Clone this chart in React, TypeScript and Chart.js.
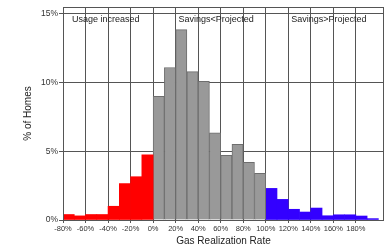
import React, { useEffect, useRef } from "react";
import { Chart, registerables } from "chart.js";

Chart.register(...registerables);

const redBins = [-80, -70, -60, -50, -40, -30, -20, -10];
const redValues = [0.4, 0.3, 0.4, 0.4, 1.0, 2.65, 3.15, 4.75];
const grayBins = [0, 10, 20, 30, 40, 50, 60, 70, 80, 90];
const grayValues = [9.0, 11.1, 13.85, 10.8, 10.1, 6.35, 4.7, 5.5, 4.2, 3.4];
const blueBins = [100, 110, 120, 130, 140, 150, 160, 170, 180, 190];
const blueValues = [2.3, 1.5, 0.78, 0.58, 0.87, 0.31, 0.38, 0.38, 0.29, 0.1];
const binWidth = 10;

const xTicks = [-80, -60, -40, -20, 0, 20, 40, 60, 80, 100, 120, 140, 160, 180];
const yTicks = [0, 5, 10, 15];

const annotationTexts = ["Usage increased", "Savings<Projected", "Savings>Projected"];
const annotationX = [-42, 56, 156];
const annotationY = 14.6;

const FONT = '"Liberation Sans", Arial, sans-serif';

function toPoints(bins: number[], vals: number[]) {
  return bins.map((b, i) => ({ x: b + binWidth / 2, y: vals[i] }));
}

export default function App() {
  const ref = useRef<HTMLCanvasElement | null>(null);
  useEffect(() => {
    if (!ref.current) return;
    const framePlugin = {
      id: "frame",
      afterDatasetsDraw(chart: any) {
        const { ctx, chartArea } = chart;
        ctx.save();
        ctx.strokeStyle = "#555";
        ctx.lineWidth = 1;
        ctx.strokeRect(
          Math.round(chartArea.left) + 0.5,
          Math.round(chartArea.top) + 0.5,
          Math.round(chartArea.right - chartArea.left) - 1,
          Math.round(chartArea.bottom - chartArea.top)
        );
        const xs = chart.scales.x;
        const ys = chart.scales.y;
        ctx.font = "9px " + FONT;
        ctx.fillStyle = "#222";
        ctx.textAlign = "center";
        ctx.textBaseline = "middle";
        annotationTexts.forEach((t, i) => {
          ctx.fillText(t, xs.getPixelForValue(annotationX[i]), ys.getPixelForValue(annotationY));
        });
        ctx.restore();
      },
    };
    const chart = new Chart(ref.current, {
      type: "bar",
      data: {
        datasets: [
          {
            data: toPoints(redBins, redValues),
            backgroundColor: "#ff0000",
            borderWidth: 0,
            grouped: false,
            barPercentage: 1,
            categoryPercentage: 1,
          },
          {
            data: toPoints(grayBins, grayValues),
            backgroundColor: "#999999",
            borderColor: "#6e6e6e",
            borderWidth: 1,
            grouped: false,
            barPercentage: 1,
            categoryPercentage: 1,
          },
          {
            data: toPoints(blueBins, blueValues),
            backgroundColor: "#3300ff",
            borderWidth: 0,
            grouped: false,
            barPercentage: 1,
            categoryPercentage: 1,
          },
        ] as any,
      },
      options: {
        animation: false,
        responsive: false,
        maintainAspectRatio: false,
        layout: { padding: { top: 7, right: 4, left: 0, bottom: 0 } },
        plugins: { legend: { display: false }, tooltip: { enabled: false } },
        scales: {
          x: {
            type: "linear",
            min: -80,
            max: 205,
            offset: false,
            afterBuildTicks: (s: any) => {
              s.ticks = xTicks.map((v) => ({ value: v }));
            },
            afterFit: (s: any) => {
              s.height = 27;
            },
            ticks: {
              autoSkip: false,
              maxRotation: 0,
              minRotation: 0,
              padding: 1,
              color: "#333",
              font: { family: FONT, size: 7.5 },
              callback: (v: any) => v + "%",
            },
            grid: { color: "#555", lineWidth: 1, tickLength: 3, offset: false },
            border: { display: false },
            title: {
              display: true,
              text: "Gas Realization Rate",
              color: "#222",
              font: { family: FONT, size: 10 },
              padding: { top: 0, bottom: 0 },
            },
          },
          y: {
            min: 0,
            max: 15.5,
            afterBuildTicks: (s: any) => {
              s.ticks = yTicks.map((v) => ({ value: v }));
            },
            afterFit: (s: any) => {
              s.width = 63;
            },
            ticks: {
              padding: 1,
              color: "#333",
              font: { family: FONT, size: 8.5 },
              callback: (v: any) => v + "%",
            },
            grid: { color: "#555", lineWidth: 1, tickLength: 4 },
            border: { display: false },
            title: {
              display: true,
              text: "% of Homes",
              color: "#222",
              font: { family: FONT, size: 10 },
              padding: { top: 22, bottom: 0 },
            },
          },
        },
      } as any,
      plugins: [framePlugin],
    });
    return () => chart.destroy();
  }, []);
  return (
    <div style={{ position: "absolute", left: 0, top: 0, width: 388, height: 247, background: "#fff" }}>
      <canvas ref={ref} width={388} height={247} style={{ display: "block" }} />
    </div>
  );
}
